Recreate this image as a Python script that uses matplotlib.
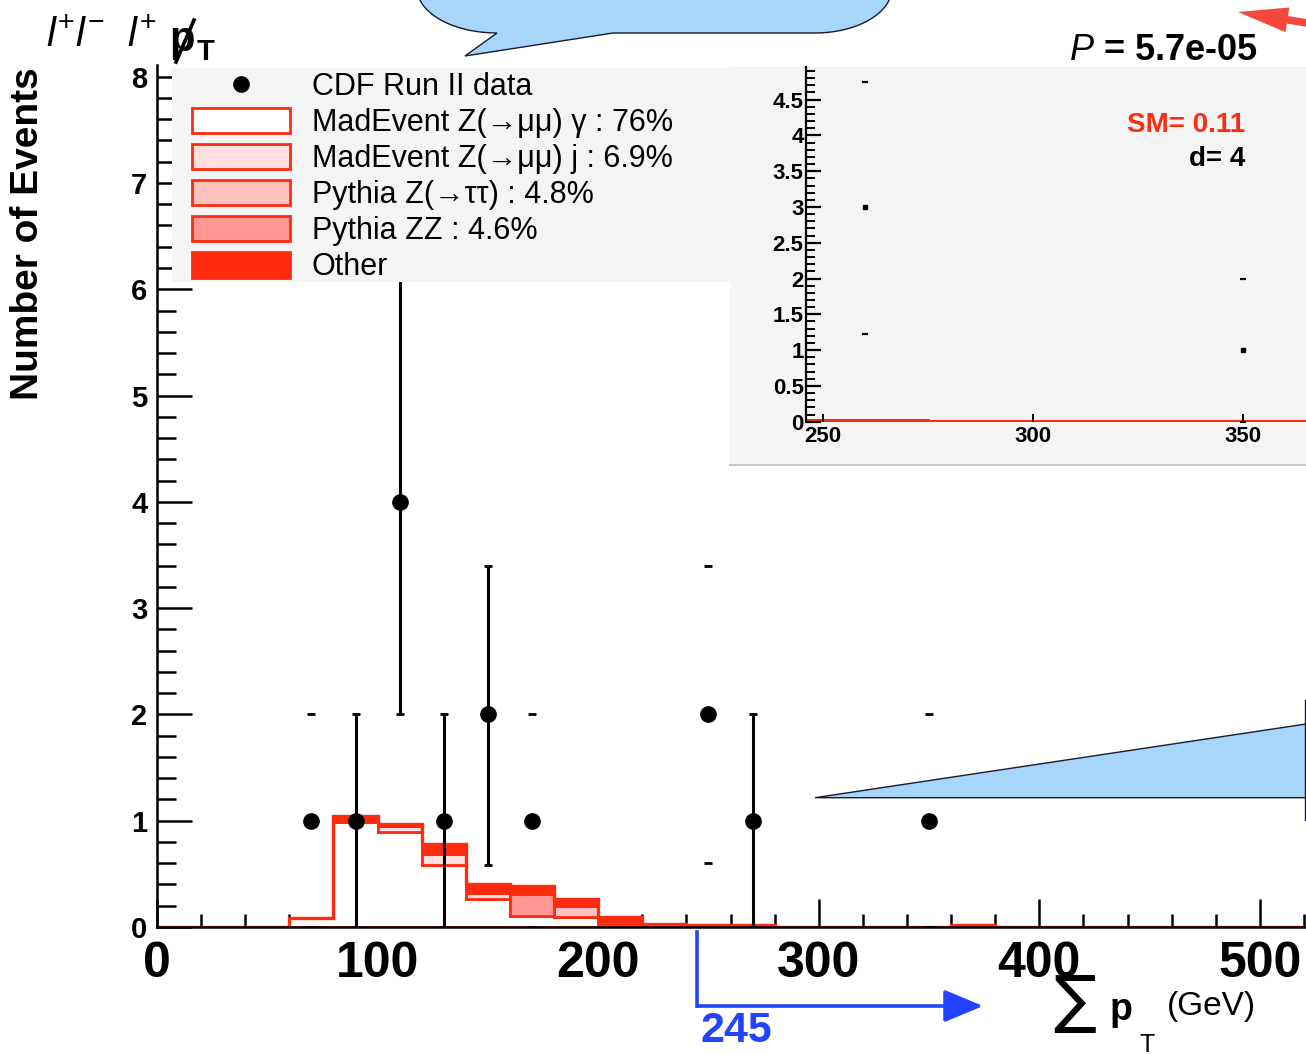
import numpy as np
import matplotlib
matplotlib.use('Agg')
import matplotlib.pyplot as plt
import matplotlib.transforms as mtransforms
from matplotlib.patches import Patch, Rectangle, Polygon, FancyArrowPatch
from matplotlib.lines import Line2D
from matplotlib.ticker import MultipleLocator, FuncFormatter

plt.rcParams['font.family'] = ['Liberation Sans', 'DejaVu Sans']
plt.rcParams['mathtext.fontset'] = 'custom'
plt.rcParams['mathtext.rm'] = 'Liberation Sans'
plt.rcParams['mathtext.it'] = 'Liberation Sans:italic'
plt.rcParams['mathtext.bf'] = 'Liberation Sans:bold'

# ---- data ----
edges = np.arange(0, 521, 20)          # 26 bins of 20 GeV
mad_zg = [0, 0, 0, 0.08, 0.99, 0.89, 0.58, 0.26, 0.10, 0.09, 0.025, 0, 0.02, 0.02,
          0, 0, 0, 0, 0, 0, 0, 0, 0, 0, 0, 0]
mad_zj = [0, 0, 0, 0, 0.01, 0.06, 0.11, 0.06, 0, 0, 0.03, 0, 0, 0,
          0, 0, 0, 0, 0, 0, 0, 0, 0, 0, 0, 0]
pyt_ztt = [0, 0, 0, 0, 0, 0, 0, 0, 0, 0.11, 0, 0, 0, 0,
           0, 0, 0, 0, 0, 0, 0, 0, 0, 0, 0, 0]
pyt_zz = [0, 0, 0, 0, 0, 0, 0, 0, 0.21, 0, 0, 0, 0, 0,
          0, 0, 0, 0, 0, 0, 0, 0, 0, 0, 0, 0]
other = [0, 0, 0, 0, 0.04, 0.02, 0.09, 0.08, 0.08, 0.06, 0.035, 0.025, 0, 0,
         0, 0, 0, 0, 0.02, 0, 0, 0, 0, 0, 0, 0]

data_x = [70, 90, 110, 130, 150, 170, 250, 270, 350]
data_y = [1, 1, 4, 1, 2, 1, 2, 1, 1]
err_lo = [1, 1, 2, 1, 1.42, 1, 1.4, 1, 1]
err_hi = [1, 1, 2.1, 1, 1.4, 1, 1.4, 1, 1]
bar_shown = [False, True, True, True, True, False, False, True, False]

inset_edges = [246, 275, 365]
inset_sm = [0.03, 0.005]
inset_x = [260, 350]
inset_y = [3, 1]
inset_lo = [1.77, 1.0]
inset_hi = [1.74, 1.0]

labels = ['CDF Run II data', 'MadEvent Z(\u2192\u03bc\u03bc) \u03b3 : 76%',
          'MadEvent Z(\u2192\u03bc\u03bc) j : 6.9%', 'Pythia Z(\u2192\u03c4\u03c4) : 4.8%',
          'Pythia ZZ : 4.6%', 'Other']
cut_value = 245

red = '#ff2b0f'
fills = ['white', '#ffdfdf', '#ffc2c0', '#ff9892', red]
gray = '#f4f4f4'
blue_fill = '#a7d5fb'

W, H = 1306, 1055
fig = plt.figure(figsize=(W / 100, H / 100), dpi=100)


def fx(px):
    return px / W


def fy(py):
    return 1 - py / H


ax = fig.add_axes([fx(157), fy(927), 1 - fx(157), (927 - 65) / H])

# stacked histogram
bottom = np.zeros(len(edges) - 1)
for vals, col in zip([mad_zg, mad_zj, pyt_ztt, pyt_zz, other], fills):
    top = bottom + np.array(vals)
    ax.stairs(top, edges, baseline=bottom, fill=True, facecolor=col,
              edgecolor=red, lw=2.0, zorder=2)
    bottom = top
ax.stairs(bottom, edges, color=red, lw=2.4, zorder=2)

# data points
dx = np.array(data_x)
dy = np.array(data_y)
lo = dy - np.array(err_lo)
hi = dy + np.array(err_hi)
shown = np.array(bar_shown)
ax.vlines(dx[shown], lo[shown], hi[shown], color='black', lw=2.2, zorder=3)
ax.plot(dx, lo, ls='none', marker='_', ms=6, mew=2, color='black', zorder=3)
ax.plot(dx, hi, ls='none', marker='_', ms=6, mew=2, color='black', zorder=3)
ax.plot(dx, dy, ls='none', marker='o', ms=11, color='black', zorder=3)

ax.set_xlim(0, 520.9)
ax.set_ylim(0, 8.11)
ax.spines['top'].set_visible(False)
ax.spines['right'].set_visible(False)
ax.spines['left'].set_linewidth(1.8)
ax.spines['bottom'].set_linewidth(1.8)
ax.xaxis.set_major_locator(MultipleLocator(100))
ax.xaxis.set_minor_locator(MultipleLocator(20))
ax.yaxis.set_major_locator(MultipleLocator(1))
ax.yaxis.set_minor_locator(MultipleLocator(0.2))
ax.tick_params(axis='x', which='major', direction='in', length=20, width=1.8,
               labelsize=36, pad=10)
ax.tick_params(axis='x', which='minor', direction='in', length=9.5, width=1.8)
ax.tick_params(axis='y', which='major', direction='in', length=25, width=1.8,
               labelsize=21, pad=7)
ax.tick_params(axis='y', which='minor', direction='in', length=13.5, width=1.8)
for lab in ax.get_xticklabels() + ax.get_yticklabels():
    lab.set_fontweight('bold')

# grey panels behind legend and inset
for x0, y0, x1, y1 in [(172, 68, 730, 282), (730, 67, 1306, 465)]:
    r = Rectangle((fx(x0), fy(y1)), fx(x1) - fx(x0), (y1 - y0) / H,
                  transform=fig.transFigure, facecolor=gray, edgecolor='none',
                  zorder=4, clip_on=False)
    ax.add_patch(r)
ax.add_line(Line2D([fx(730), 1], [fy(465), fy(465)], transform=fig.transFigure,
                   color='#c8c8c8', lw=1.5, zorder=4, clip_on=False))

handles = [Line2D([], [], ls='none', marker='o', ms=11, color='black')]
handles += [Patch(facecolor=c, edgecolor=red, lw=2) for c in fills]
leg = ax.legend(handles, labels, loc='upper left', bbox_to_anchor=(fx(192), fy(72)),
                bbox_transform=fig.transFigure, frameon=False, fontsize=22,
                handlelength=3.2, handleheight=0.9, handletextpad=0.72,
                labelspacing=0.19, borderpad=0, borderaxespad=0)
leg.set_zorder(6)

# inset
axin = fig.add_axes([fx(806.5), fy(421.7), 1 - fx(806.5), (421.7 - 66.7) / H])
axin.set_facecolor(gray)
axin.stairs(inset_sm, inset_edges, color=red, lw=2.2)
ix = np.array(inset_x)
iy = np.array(inset_y)
axin.plot(ix, iy - np.array(inset_lo), ls='none', marker='_', ms=5, mew=1.6, color='black')
axin.plot(ix, iy + np.array(inset_hi), ls='none', marker='_', ms=5, mew=1.6, color='black')
axin.plot(ix, iy, ls='none', marker='s', ms=3.5, color='black')
axin.set_xlim(246, 365)
axin.set_ylim(0, 4.96)
for s in ['top', 'right']:
    axin.spines[s].set_visible(False)
axin.spines['left'].set_linewidth(1.6)
axin.spines['bottom'].set_visible(False)
axin.xaxis.set_major_locator(MultipleLocator(50))
axin.yaxis.set_major_locator(MultipleLocator(0.5))
axin.yaxis.set_minor_locator(MultipleLocator(0.1))
axin.yaxis.set_major_formatter(FuncFormatter(lambda v, p: '%g' % v))
axin.tick_params(axis='y', which='major', direction='in', length=11, width=1.6,
                 labelsize=16, pad=2)
axin.tick_params(axis='y', which='minor', direction='in', length=6.5, width=1.4)
axin.tick_params(axis='x', which='major', direction='in', length=6, width=1.4,
                 labelsize=16, pad=3)
for lab in axin.get_xticklabels() + axin.get_yticklabels():
    lab.set_fontweight('bold')
fig.text(fx(1245), fy(125), 'SM= 0.11', color=red, fontsize=20, fontweight='bold',
         ha='right', va='center')
fig.text(fx(1245), fy(159), 'd= 4', color='black', fontsize=20, fontweight='bold',
         ha='right', va='center')

# titles and labels
fig.text(fx(28), fy(234), 'Number of Events', rotation=90, fontsize=28,
         fontweight='bold', ha='center', va='center')
fig.text(fx(46), fy(47), r'$\mathit{l}^{+}\mathit{l}^{-}\ \ \mathit{l}^{+}$', fontsize=29,
         ha='left', va='baseline')
fig.text(fx(169), fy(51), 'p', fontsize=30, fontweight='bold', ha='left', va='baseline')
fig.add_artist(Line2D([fx(176), fx(194)], [fy(62), fy(20)], color='black', lw=2.6))
fig.text(fx(197), fy(60), 'T', fontsize=21, fontweight='bold', ha='left', va='baseline')
fig.text(fx(1258), fy(60), r'$\mathit{P}$ = 5.7e-05', fontsize=26, fontweight='bold',
         ha='right', va='baseline')

fig.text(fx(1053), fy(1003), '\u2211', family='DejaVu Sans', fontsize=46,
         ha='left', va='center')
fig.text(fx(1110), fy(1020), 'p', fontsize=27, fontweight='bold', ha='left', va='baseline')
fig.text(fx(1140), fy(1052), 'T', fontsize=18, ha='left', va='baseline')
fig.text(fx(1167), fy(1006), '(GeV)', fontsize=24, ha='left', va='center')

# cut arrow
blend = mtransforms.blended_transform_factory(ax.transData, fig.transFigure)
ax.add_line(Line2D([cut_value, cut_value], [fy(932), fy(1006)], transform=blend,
                   color='#2244ff', lw=2.6, clip_on=False))
arr = FancyArrowPatch((cut_value, fy(1006)), (374.5, fy(1006)), transform=blend,
                      arrowstyle='-|>,head_length=24,head_width=10', mutation_scale=1,
                      color='#2244ff', lw=2.6, shrinkA=0, shrinkB=0, clip_on=False)
ax.add_patch(arr)
fig.text(fx(700), fy(1031), str(cut_value), color='#2244ff', fontsize=31,
         fontweight='bold', ha='left', va='center')

# callouts
t1 = np.linspace(np.pi, np.pi / 2, 20)
t2 = np.linspace(np.pi / 2, 0, 20)
pts = [(497 + 80 * np.cos(t), -12 + 45 * np.sin(t)) for t in t1]
pts += [(465, 56), (613, 33)]
pts += [(815 + 77 * np.cos(t), -12 + 45 * np.sin(t)) for t in t2]
pts += [(892, -80), (417, -80)]
bubble = Polygon([(fx(a), fy(b)) for a, b in pts], closed=True, transform=fig.transFigure,
                 facecolor=blue_fill, edgecolor='#1a1a2a', lw=1.0)
fig.patches.append(bubble)
wedge = Polygon([(fx(815), fy(797.7)), (fx(1306), fy(724)), (fx(1306), fy(797.7))],
                closed=True, transform=fig.transFigure, facecolor=blue_fill,
                edgecolor='#1a1a2a', lw=1.0)
fig.patches.append(wedge)
fig.add_artist(Line2D([fx(1305), fx(1305)], [fy(700), fy(820)], color='#1a1a2a', lw=1.0))

red_arr = FancyArrowPatch((fx(1320), fy(25)), (fx(1238), fy(12)), transform=fig.transFigure,
                          arrowstyle='simple,head_length=36,head_width=18,tail_width=5.5',
                          mutation_scale=1, color='#f4483a', lw=0, shrinkA=0, shrinkB=0)
fig.patches.append(red_arr)

fig.savefig('out.png', dpi=100)
